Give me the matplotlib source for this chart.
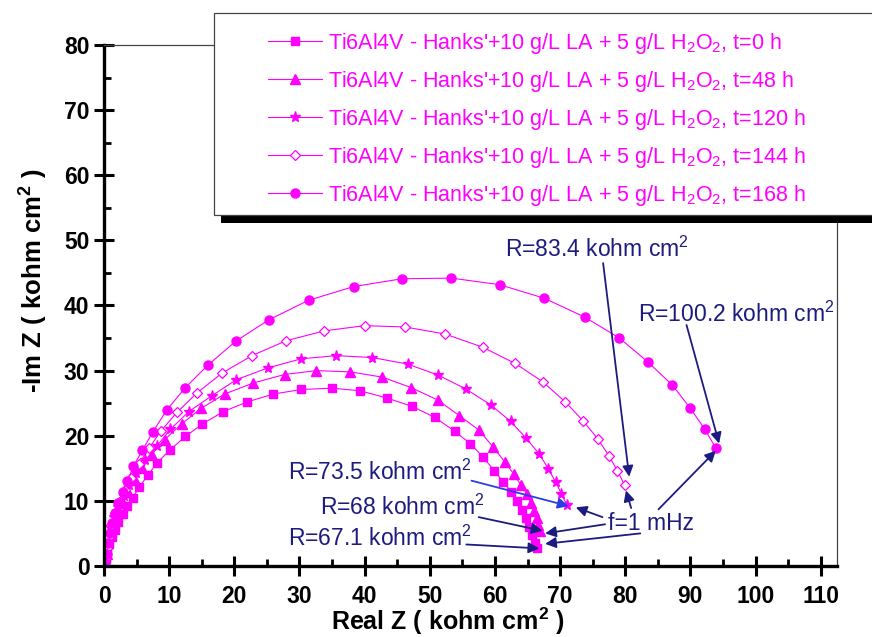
import matplotlib
matplotlib.use('Agg')
import matplotlib.pyplot as plt
from matplotlib.patches import Rectangle

plt.rcParams['font.family'] = ['Liberation Sans', 'DejaVu Sans']
plt.rcParams['mathtext.fontset'] = 'custom'
plt.rcParams['mathtext.rm'] = 'Liberation Sans'
plt.rcParams['mathtext.it'] = 'Liberation Sans:italic'
plt.rcParams['mathtext.bf'] = 'Liberation Sans:bold'

# Nyquist data (Real Z, -Im Z in kohm cm2)
x_0h = [0.2, 0.3, 0.5, 0.8, 1.2, 1.7, 2.2, 2.9, 3.6, 4.4, 5.4, 6.7, 8.1, 10.1, 12.5, 15.1,
        18.3, 22.0, 26.0, 30.3, 35.0, 39.3, 43.4, 47.3, 50.8, 53.8, 56.2, 58.2, 59.9, 61.3,
        62.5, 63.4, 64.1, 64.7, 65.2, 65.7, 66.2, 66.4]
y_0h = [0.3, 1.0, 2.2, 3.4, 4.5, 5.6, 6.8, 8.0, 9.2, 10.5, 12.1, 13.9, 15.8, 17.8, 19.9, 21.8,
        23.7, 25.2, 26.4, 27.1, 27.3, 26.9, 25.8, 24.5, 22.8, 20.7, 18.8, 16.7, 14.6, 12.9,
        11.4, 10.0, 8.6, 7.3, 6.0, 4.8, 3.6, 2.8]

x_48h = [0.2, 0.4, 0.6, 0.9, 1.4, 2.0, 2.9, 3.7, 4.7, 5.9, 7.3, 9.3, 11.9, 14.9, 18.5, 22.9,
         27.7, 32.6, 37.8, 42.7, 47.1, 51.2, 54.5, 57.5, 59.7, 61.5, 62.9, 64.0, 64.9, 65.5,
         66.0, 66.4, 66.6, 66.9]
y_48h = [0.5, 1.9, 3.5, 5.0, 6.6, 8.1, 9.7, 11.4, 13.2, 15.0, 17.1, 19.4, 21.8, 24.2, 26.4, 28.1,
         29.4, 30.0, 29.8, 29.0, 27.4, 25.5, 23.1, 20.9, 18.3, 16.0, 14.1, 12.4, 11.1, 9.6,
         8.5, 7.3, 6.3, 5.3]

x_120h = [0.2, 0.4, 0.7, 1.1, 1.6, 2.2, 3.0, 3.9, 4.9, 6.3, 8.1, 10.2, 13.0, 16.5, 20.3, 25.1,
          30.2, 35.6, 41.2, 46.6, 51.3, 55.5, 59.4, 62.4, 64.8, 66.8, 68.2, 69.3, 70.2, 71.0]
y_120h = [1.0, 2.5, 4.1, 5.8, 7.5, 9.1, 10.8, 12.4, 14.2, 16.2, 18.4, 21.0, 23.7, 26.1, 28.6, 30.4,
          31.8, 32.3, 32.0, 31.0, 29.3, 27.2, 24.7, 22.2, 19.6, 17.2, 14.9, 12.9, 11.1, 9.4]

x_144h = [0.2, 0.4, 0.7, 1.1, 1.7, 2.3, 3.2, 4.2, 5.4, 6.9, 8.8, 11.2, 14.3, 18.1, 22.7, 28.0,
          33.8, 40.0, 46.2, 52.4, 58.1, 63.1, 67.3, 70.8, 73.5, 75.8, 77.5, 78.8, 79.9]
y_144h = [1.1, 2.7, 4.5, 6.3, 8.1, 9.9, 11.7, 13.5, 15.7, 18.1, 20.8, 23.6, 26.6, 29.6, 32.3, 34.6,
          36.1, 36.9, 36.7, 35.6, 33.6, 31.1, 28.3, 25.2, 22.3, 19.5, 16.9, 14.6, 12.4]

x_168h = [0.2, 0.4, 0.6, 0.9, 1.3, 1.7, 2.2, 2.9, 3.6, 4.5, 5.9, 7.5, 9.6, 12.4, 15.9, 20.2,
          25.3, 31.4, 38.3, 45.7, 53.3, 60.7, 67.6, 73.8, 79.1, 83.5, 87.2, 90.0, 92.2, 93.9]
y_168h = [0.5, 1.9, 3.5, 5.0, 6.6, 8.1, 9.6, 11.3, 13.1, 15.3, 17.8, 20.6, 23.9, 27.3, 30.8, 34.5,
          37.8, 40.8, 42.9, 44.1, 44.2, 43.2, 41.1, 38.2, 35.0, 31.3, 27.8, 24.2, 21.0, 18.1]

base = "Ti6Al4V - Hanks'+10 g/L LA + 5 g/L H$_2$O$_2$, "
labels = [base + "t=0 h", base + "t=48 h", base + "t=120 h", base + "t=144 h", base + "t=168 h"]

# annotation texts: (text, x, y baseline)
notes = [("R=83.4 kohm cm$^2$", 61.5, 47.5),
         ("R=100.2 kohm cm$^2$", 82.0, 37.5),
         ("f=1 mHz", 77.4, 5.6),
         ("R=73.5 kohm cm$^2$", 28.3, 13.2),
         ("R=68 kohm cm$^2$", 33.2, 7.9),
         ("R=67.1 kohm cm$^2$", 28.3, 3.1)]
# arrows: (start, tip)
arrows = [((76.6, 46.5), (80.6, 13.7)),
          ((89.4, 37.0), (94.4, 18.8)),
          ((80.9, 8.9), (80.1, 11.6)),
          ((85.1, 8.7), (93.9, 17.7)),
          ((76.5, 7.5), (72.4, 9.0)),
          ((76.9, 6.4), (67.7, 5.0)),
          ((82.3, 5.0), (67.7, 3.4)),
          ((57.5, 7.5), (67.3, 5.4)),
          ((55.6, 3.3), (66.8, 2.7))]
blue_arrow = ((56.4, 13.1), (71.3, 9.2))

mag = '#ff00ff'
navy = '#1c1c80'

fig = plt.figure(figsize=(8.72, 6.37), dpi=100)
ax = fig.add_axes([0.1193, 0.1115, 0.8406, 0.8179])

ax.plot(x_0h, y_0h, color=mag, lw=0.8, marker='s', ms=6, label=labels[0])
ax.plot(x_48h, y_48h, color=mag, lw=0.8, marker='^', ms=7, label=labels[1])
ax.plot(x_120h, y_120h, color=mag, lw=0.8, marker='*', ms=8, label=labels[2])
ax.plot(x_144h, y_144h, color=mag, lw=0.8, marker='D', ms=5.5, mfc='white', mec=mag,
        mew=0.9, label=labels[3])
ax.plot(x_168h, y_168h, color=mag, lw=0.8, marker='o', ms=6.5, label=labels[4])

for txt, tx, ty in notes:
    ax.text(tx, ty, txt, color=navy, fontsize=16.5, ha='left', va='baseline')
for start, tip in arrows:
    ax.annotate('', xy=tip, xytext=start,
                arrowprops=dict(arrowstyle='-|>', color=navy, lw=1.3, mutation_scale=16,
                                shrinkA=0, shrinkB=0))
ax.annotate('', xy=blue_arrow[1], xytext=blue_arrow[0],
            arrowprops=dict(arrowstyle='-|>', color='#2a3fe0', lw=1.3, mutation_scale=16,
                            shrinkA=0, shrinkB=0))

ax.set_xlim(0, 112.5)
ax.set_ylim(0, 80)
ax.set_xticks(range(0, 111, 10))
ax.set_xticks(range(5, 111, 10), minor=True)
ax.set_yticks(range(0, 81, 10))
ax.set_yticks(range(5, 80, 10), minor=True)
ax.tick_params(which='major', direction='inout', length=15, width=2.2, labelsize=16.5, pad=3)
ax.tick_params(axis='x', which='major', pad=6)
ax.tick_params(which='minor', direction='in', length=5, width=2)
plt.setp(ax.get_xticklabels() + ax.get_yticklabels(), fontweight='bold')

for side in ['left', 'bottom']:
    ax.spines[side].set_linewidth(2.4)
for side in ['top', 'right']:
    ax.spines[side].set_linewidth(0.9)
    ax.spines[side].set_color('#444444')

ax.set_xlabel("Real Z ( kohm cm$^\\mathbf{2}$ )", fontsize=18, fontweight='bold')
ax.set_ylabel("-Im Z ( kohm cm$^\\mathbf{2}$ )", fontsize=18.5, fontweight='bold')
ax.xaxis.set_label_coords(0.4686, -0.077)
ax.yaxis.set_label_coords(-0.074, 0.547)

# legend box with a hard black shadow
shadow = Rectangle((221 / 872, 1 - 223 / 637), 0.8, 202 / 637, transform=fig.transFigure,
                   facecolor='black', edgecolor='none', zorder=3)
frame = Rectangle((214 / 872, 1 - 215 / 637), 0.8, 202 / 637, transform=fig.transFigure,
                  facecolor='white', edgecolor='#444444', lw=0.9, zorder=4)
fig.add_artist(shadow)
fig.add_artist(frame)
handles, _ = ax.get_legend_handles_labels()
leg = fig.legend(handles, labels, loc='upper left', bbox_to_anchor=(268 / 872, 1 - 31 / 637),
                 frameon=False, borderpad=0, borderaxespad=0, fontsize=15.5,
                 handlelength=2.5, handletextpad=0.3, labelspacing=0.6, labelcolor=mag)
leg.set_zorder(5)

fig.savefig('out.png', dpi=100)
